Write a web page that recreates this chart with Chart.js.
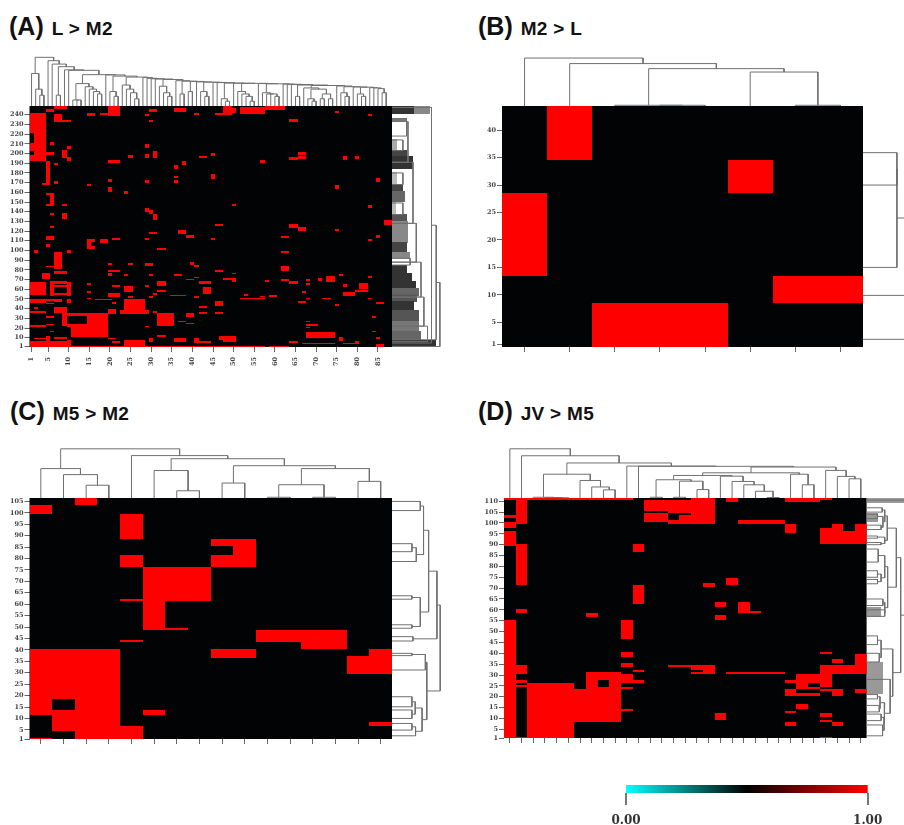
<!DOCTYPE html>
<html>
<head>
<meta charset="utf-8">
<title>Heatmaps</title>
<script src="https://cdn.jsdelivr.net/npm/chart.js@4"></script>
<style>
body { margin: 0; background: #fff; width: 904px; height: 825px; overflow: hidden; position: relative; }
canvas { position: absolute; filter: blur(0.45px); }
.lab { position: absolute; font: bold 25px "Liberation Sans", sans-serif; color: #111; white-space: nowrap; }
.lab span { font-size: 19px; letter-spacing: 0.3px; margin-left: 1px; }
</style>
</head>
<body>
<div class="lab" style="left:9px;top:12px">(A) <span>L &gt; M2</span></div>
<div class="lab" style="left:478px;top:12px">(B) <span>M2 &gt; L</span></div>
<div class="lab" style="left:10px;top:397px">(C) <span>M5 &gt; M2</span></div>
<div class="lab" style="left:478px;top:397px">(D) <span>JV &gt; M5</span></div>
<canvas id="chartA"></canvas>
<canvas id="chartB"></canvas>
<canvas id="chartC"></canvas>
<canvas id="chartD"></canvas>
<canvas id="chartKey"></canvas>
<script>
// red cells: [firstCol, lastCol, firstRow, lastRow]
const colTicksA = [1, 5, 10, 15, 20, 25, 30, 35, 40, 45, 50, 55, 60, 65, 70, 75, 80, 85];
const rowTicksA = [1, 10, 20, 30, 40, 50, 60, 70, 80, 90, 100, 110, 120, 130, 140, 150, 160, 170, 180, 190, 200, 210, 220, 230, 240];
const cellsA = [
  [2,4,193,241],[1,1,222,241],[1,1,203,210],[1,1,193,198],[5,6,243,245],[7,9,246,248],[7,8,233,240],[9,10,233,234],
  [6,6,209,211],[5,6,199,201],[10,10,205,207],[9,9,196,203],[10,10,193,196],[5,5,170,192],[4,5,168,169],[7,7,189,190],
  [7,7,169,171],[6,6,146,159],[5,5,158,159],[5,5,146,147],[9,9,146,147],[15,16,239,241],[18,19,240,241],[20,22,239,248],
  [29,29,239,240],[30,31,243,245],[30,30,233,234],[36,38,243,246],[41,41,240,241],[46,49,240,241],[48,49,242,248],
  [29,29,206,209],[29,29,196,199],[31,31,196,202],[20,22,191,193],[25,25,196,198],[36,36,185,188],[38,38,189,192],
  [42,43,196,197],[45,45,198,200],[45,45,174,178],[36,36,175,176],[36,36,170,172],[29,29,170,172],[20,20,171,173],
  [15,15,167,168],[20,20,161,165],[24,24,159,161],[6,6,137,138],[9,9,133,138],[29,29,140,143],[30,30,138,141],
  [31,31,132,137],[6,6,124,125],[46,47,126,127],[5,6,111,114],[5,5,104,106],[2,2,98,100],[15,15,102,111],[16,16,102,104],
  [16,16,109,111],[18,19,108,111],[21,22,111,112],[37,38,118,121],[39,40,113,116],[32,33,101,102],[29,29,111,112],
  [30,31,118,119],[45,45,111,112],[7,8,81,98],[5,6,83,84],[10,10,98,100],[40,40,86,88],[41,41,83,85],[29,30,85,87],
  [25,25,86,87],[20,20,86,87],[20,22,78,79],[20,20,74,76],[4,5,71,76],[7,9,76,78],[1,4,55,67],[1,4,46,50],[6,9,66,68],
  [7,9,63,64],[6,6,54,68],[7,9,55,56],[10,10,54,67],[5,6,48,49],[7,8,47,49],[10,10,46,49],[5,6,45,45],[15,15,65,66],
  [15,15,57,58],[15,15,50,51],[17,20,50,50],[20,22,53,56],[21,22,63,64],[21,21,45,46],[20,21,35,39],[24,24,74,75],
  [24,25,58,63],[25,25,52,53],[24,28,39,50],[23,29,35,38],[30,30,52,53],[31,31,55,56],[32,33,58,59],[32,33,64,68],
  [29,29,63,64],[30,30,74,75],[31,31,36,37],[1,4,36,37],[2,2,40,41],[7,9,36,41],[5,6,31,32],[9,14,33,35],[9,9,23,35],
  [10,14,22,24],[15,19,11,35],[11,14,11,22],[32,35,23,35],[1,4,22,23],[5,6,24,24],[6,6,16,17],[1,10,1,6],[2,5,9,9],
  [5,5,5,11],[7,9,9,10],[10,10,1,7],[11,49,1,1],[24,28,2,7],[20,21,9,9],[21,22,5,6],[30,30,6,9],[32,33,11,12],
  [36,38,6,9],[41,41,5,9],[42,44,5,6],[47,49,8,11],[37,38,27,27],[39,40,25,25],[39,40,32,35],[29,29,22,22],[35,38,54,54],
  [39,40,70,70],[41,41,72,72],[36,37,74,75],[46,47,78,79],[48,49,71,71],[42,44,66,68],[43,44,56,62],[42,43,41,42],
  [42,43,35,36],[46,47,43,47],[46,47,35,36],[41,41,52,53],
  [52,57,241,247],[48,50,242,246],[58,62,245,248],[75,75,242,243],[83,83,239,240],[64,65,233,235],[66,67,199,201],
  [64,65,194,196],[66,67,195,197],[57,57,191,193],[77,77,194,197],[80,80,195,197],[75,75,164,167],[85,85,171,174],
  [83,83,144,146],[50,50,146,147],[87,88,127,131],[64,65,124,127],[66,67,121,124],[62,63,113,114],[62,63,98,99],
  [62,63,79,84],[75,75,121,122],[83,83,110,111],[85,85,113,115],[62,63,69,70],[64,65,66,68],[68,68,69,70],[68,68,65,66],
  [71,71,69,71],[73,74,68,73],[76,76,74,75],[77,77,63,65],[81,82,61,66],[80,82,58,59],[77,79,54,57],[83,83,72,73],
  [83,83,50,51],[85,86,45,46],[84,84,31,32],[84,84,16,17],[85,85,9,10],[75,75,43,44],[72,73,50,51],[68,68,50,51],
  [66,67,46,47],[67,67,57,58],[59,60,53,54],[52,57,50,51],[53,53,54,55],[57,57,53,53],[48,50,70,71],[50,50,76,76],
  [50,50,68,69],[58,58,68,69],[68,74,10,15],[68,70,23,24],[68,68,27,27],[68,68,21,21],[76,76,7,10],[48,50,6,11],
  [64,65,5,6],[47,57,1,1],[59,63,1,1],[67,74,4,4],[80,80,5,6],[77,80,4,4],[85,86,1,3]
];
// tree nodes: [height, left, right, optional stem row]; heights are % of the heatmap size
const chainClustersA = [
  [13.5,1,[7,2,[4.5,3,4]]], 5, 6, [4.5,7,8], 9, 10,
  [9.3,[2.5,11,[2.5,12,13]],[8,14,[7,15,[6,16,[5,17,18]]]]], 19, [6,20,[4,21,22]],
  [8.7,23,[7,24,[5.5,25,[3,26,27]]]], 28, 29, 30, 31, [8.2,32,[5.5,33,[4,34,35]]], 36,
  [5,37,38], [6,39,40], 41, [6,42,[4,43,44]], 45, 46, [3,47,[2,48,49]], 50,
  [6,51,[5,52,[4,53,[2,54,55]]]], 56, [5.5,57,[5,58,[5,59,[4,60,61]]]], 62, 63, 64, [4,65,66],
  [7.5,67,[7,[3,68,[2,69,70]],[5,[3,71,72],[3,73,74]]]], 75, [5.5,76,[4,77,78]], 79,
  [5,80,[4,81,82]], 83, 84, 85, [5.5,86,87]
];
const chainHeightsA = [20.2,18.8,17.4,16.3,15,14.8,13,12.9,12.4,12,11.8,11.5,11.3,11.2,11,10.5,10.3,10.2,10,9.9,9.8,9.7,
  9.5,9.45,9.4,9.3,9.2,9.1,9,8.9,8.7,8.5,8.3,8,7.9,7.8,7.6,7.5,7.2];
const rightTreesA = [
  [13.2,[12.2,[10.9,247.5,4.6],8],1],
  [4.4,233,191],[5.8,191,128],[6.7,128,88],[8,88,52],[8.8,52,22],[9.8,22,6],
  [3,214,203],[3,180,168],[3,149,137],[4,236,218],[5,92,85]
];
// dense leaf lines of the row tree: [firstRow, lastRow, height, colour]
const bandsA = [
  [241.5,248,10.6,"#888"],[241.5,248,6,"#333"],[234,236,4,"#777"],[203,214,1.5,"#aaa"],[197,203,4,"#444"],[185,197,5.8,"#333"],
  [168,180,1.5,"#bbb"],[161,168,3,"#444"],[151,161,3.5,"#666"],[137,149,1.2,"#bbb"],[130,137,4,"#555"],[108,130,4.5,"#888"],
  [98,108,4,"#444"],[92,98,5,"#888"],[76,85,4.2,"#333"],[68,76,5.5,"#333"],[61,68,6.7,"#333"],[54,61,7.5,"#666"],
  [47,54,6.8,"#555"],[38,47,6,"#333"],[27,38,7.5,"#555"],[16,27,7.5,"#777"],[7,16,8,"#666"],[1,7,12,"#333"]
];

const colTicksB = [1, 2, 3, 4, 5, 6, 7, 8];
const rowTicksB = [1, 5, 10, 15, 20, 25, 30, 35, 40];
const cellsB = [[2,2,35,44],[1,1,14,28],[6,6,29,34],[3,5,1,8],[7,8,9,13]];
const topTreeB = [[19.9,1,[17.6,2,[15.5,[0.3,3,[0.3,4,5]],[14.1,6,[0.3,7,8]]]]]];
const rightTreesB = [[14,[9.4,[9.4,35.9,30],15,24],[14,9.9,1.9]]];

const colTicksC = [1, 2, 3, 4, 5, 6, 7, 8, 9, 10, 11, 12, 13, 14, 15, 16];
const rowTicksC = [1, 5, 10, 15, 20, 25, 30, 35, 40, 45, 50, 55, 60, 65, 70, 75, 80, 85, 90, 95, 100, 105];
const cellsC = [
  [3,3,104,106],[1,1,100,103],[5,5,89,99],[5,5,77,81],[9,10,86,88],[10,10,82,85],[9,10,77,81],[6,8,62,76],[6,6,49,61],
  [5,5,62,62],[5,5,44,44],[7,7,49,49],[11,12,44,48],[13,14,41,48],[1,1,12,40],[2,2,19,40],[2,2,5,13],[3,4,1,40],
  [5,5,1,6],[1,1,1,1],[6,6,12,13],[9,10,37,40],[15,15,30,37],[16,16,30,40],[16,16,7,8]
];
const topTreeC = [[20.4,[12.2,1,[9.7,2,[5.3,3,4]]],[17.6,5,[16.3,[11.4,6,[3,7,8]],[13.4,[6.2,9,10],[12.2,[5.5,[0.3,11,12],[0.3,13,14]],[6.9,15,16]]]]]]];
const rightTreesC = [[13.3,
  [12.4,[10.1,[8.7,[7.8,105,101],[6.7,[5.5,86.5,83],78.7]],[7.8,[5.5,63.7,62.2],[5.5,51,49.5]]],[5.8,45.8,43.9]],
  [9.6,[9.2,[5.5,38.5,37.5],31.2],[8.3,[6.4,[5.5,19.5,15.1],[5.5,13.7,10]],[6.5,[5.5,7.8,4.9],2.4]]]
]];

const colTicksD = [1,2,3,4,5,6,7,8,9,10,11,12,13,14,15,16,17,18,19,20,21,22,23,24,25,26,27,28,29,30,31];
const rowTicksD = [1,5,10,15,20,25,30,35,40,45,50,55,60,65,70,75,80,85,90,95,100,105,110];
const cellsD = [
  [1,2,111,111],[3,11,111,111],[2,2,100,111],[1,1,103,103],[1,1,98,100],[1,1,90,96],[2,2,72,90],[12,12,87,90],
  [13,14,106,110],[13,14,101,104],[15,16,105,110],[15,16,100,101],[17,18,100,111],[16,16,102,103],[12,12,63,71],
  [2,2,59,60],[8,8,57,58],[1,1,1,55],[11,11,47,55],[11,11,39,40],[11,11,34,35],[2,2,31,34],[2,2,27,27],[2,2,25,25],
  [2,2,1,1],[12,12,32,32],[11,12,27,27],[11,11,24,24],[11,11,28,30],[11,11,14,14],[3,6,1,26],[7,7,9,23],[8,8,9,31],
  [9,9,9,24],[9,9,28,31],[10,10,9,31],[15,16,34,34],[20,20,72,74],[18,18,71,72],[19,19,62,63],[21,21,59,63],[22,22,59,59],
  [19,19,56,57],[17,17,33,34],[18,18,31,34],[17,17,31,31],[20,24,31,31],[28,28,40,40],[29,29,36,37],[31,31,34,39],
  [28,31,31,34],[26,27,27,30],[26,26,24,27],[27,27,24,24],[28,28,25,28],[28,28,29,30],[25,25,27,27],[25,25,21,23],
  [26,27,21,21],[29,29,21,23],[31,31,22,23],[28,28,23,23],[26,26,15,16],[25,25,13,13],[28,28,11,12],[28,28,9,9],
  [29,29,7,8],[25,25,7,8],[19,19,10,12],[28,28,1,1],[21,24,100,101],[25,25,96,99],[28,29,91,97],[29,29,97,99],
  [31,31,97,99],[30,31,91,96],[20,20,110,111],[25,27,110,111],[28,28,111,111]
];
const topTreeD = [[20.5,1,[17.6,2,[14.6,
  [9.9,[0.3,3,[0.2,4,[0.1,5,6]]],[7.3,7,[4.6,8,[3.4,9,10]]]],
  [13.3,11,[13.2,12,[12.9,
    [10.5,[9.4,[7.6,[0.3,13,14],[7,[0.3,15,16],[3.5,17,18]]],[9.1,19,[6.9,20,[5.5,21,[2.8,22,[0.2,23,24]]]]]],[9.9,25,[5.5,26,27]]],
    [11.5,28,[9,29,[8,30,31]]]
  ]]]
]]]];
const rightTreesD = [[16,110.5,
  [9.4,
    [8.2,[5.7,[5,[4.3,107,105],[4.5,[3,104,102],[4,99,97]]],[5,[3,94,93],[4,91,90]]],
         [5.8,[5,[3.2,88,82],[4,[3,78,75],[3,74,72]]],[5,[4.5,65,62],[5,60,57]]]],
    [7.2,[4,[3,48,44],[3.5,40,36]],[6.5,28,[5,[3.7,[3,21,19],[3.5,16,13]],[4.8,[4,12,9],[4.4,7,2]]]]]
  ]
]];
const bandsD = [[109.6,111,12,"#999"],[101,104,3.2,"#999"],[57,61,4,"#999"],[21.6,35.4,4.5,"#999"]];

const keyTicks = [0, 1];
const keyStops = [[0, "#00ffff"], [0.5, "#000000"], [1, "#ff0000"]];

const treeColor = "#707070";
const heatBlack = "#020304";
const heatRed = "#ff0000";

// folds the left-to-right list of clusters into one caterpillar tree
function foldChain(clusters, heights) {
  let node = clusters[clusters.length - 1];
  for (let i = clusters.length - 2; i >= 0; i--) {
    node = [heights[i], clusters[i], node];
  }
  return node;
}

// turns tree nodes into line points, null points break the line
function treePoints(roots, horizontal) {
  const pts = [];
  const add = (pos, h) => pts.push(horizontal ? {x: 100 + h, y: pos} : {x: pos, y: 100 + h});
  function walk(node) {
    if (typeof node === "number") return {pos: node, h: 0};
    const a = walk(node[1]);
    const b = walk(node[2]);
    add(a.pos, a.h);
    add(a.pos, node[0]);
    add(b.pos, node[0]);
    add(b.pos, b.h);
    pts.push({x: null, y: null});
    return {pos: node[3] !== undefined ? node[3] : (a.pos + b.pos) / 2, h: node[0]};
  }
  roots.forEach(walk);
  return pts;
}

const heatPlugin = {
  id: "heat",
  beforeDatasetsDraw(chart, args, opts) {
    const {ctx, chartArea: area, scales} = chart;
    const px = (scale, v) => Math.round(scale.getPixelForValue(v));
    ctx.save();
    (opts.bands || []).forEach(b => {
      const x0 = px(scales.treeX, 100);
      const x1 = px(scales.treeX, 100 + b[2]);
      const y0 = px(scales.y, b[1] + 0.5);
      const y1 = px(scales.y, b[0] - 0.5);
      ctx.fillStyle = b[3];
      ctx.fillRect(x0, y0, x1 - x0, y1 - y0);
    });
    ctx.fillStyle = heatBlack;
    ctx.fillRect(area.left, area.top, area.width, area.height);
    ctx.beginPath();
    ctx.rect(area.left, area.top, area.width, area.height);
    ctx.clip();
    ctx.fillStyle = heatRed;
    opts.cells.forEach(c => {
      const x0 = px(scales.x, c[0] - 0.5);
      const x1 = px(scales.x, c[1] + 0.5);
      const y0 = px(scales.y, c[3] + 0.5);
      const y1 = px(scales.y, c[2] - 0.5);
      ctx.fillRect(x0, y0, x1 - x0, Math.max(y1 - y0, 1));
    });
    ctx.restore();
  }
};

const keyPlugin = {
  id: "keyBar",
  beforeDatasetsDraw(chart) {
    const {ctx, chartArea: area, scales} = chart;
    const grad = ctx.createLinearGradient(scales.x.getPixelForValue(0), 0, scales.x.getPixelForValue(1), 0);
    keyStops.forEach(s => grad.addColorStop(s[0], s[1]));
    ctx.fillStyle = grad;
    ctx.fillRect(area.left, area.top, area.width, area.height);
  }
};

function heatmap(id, box, p) {
  const canvas = document.getElementById(id);
  canvas.style.left = box.left + "px";
  canvas.style.top = box.top + "px";
  canvas.width = box.width;
  canvas.height = box.height;
  const tickFont = {family: '"DejaVu Serif", serif', size: 6.5, weight: "bold"};
  const lineSet = (pts, xId, yId) => ({
    data: pts, showLine: true, pointRadius: 0, borderWidth: 1, borderColor: treeColor,
    xAxisID: xId, yAxisID: yId, clip: false
  });
  return new Chart(canvas, {
    type: "scatter",
    data: {
      datasets: [
        lineSet(treePoints(p.topTree, false), "x", "treeY"),
        lineSet(treePoints(p.rightTrees, true), "treeX", "y")
      ]
    },
    options: {
      responsive: false,
      animation: false,
      layout: {padding: {top: box.padTop, right: box.padRight, left: 0, bottom: 0}},
      plugins: {
        legend: {display: false},
        tooltip: {enabled: false},
        heat: {cells: p.cells, bands: p.bands || []}
      },
      scales: {
        x: {
          type: "linear", min: p.xRange[0], max: p.xRange[1],
          afterBuildTicks: s => { s.ticks = p.colTicks.map(value => ({value})); },
          afterFit: s => { s.height = box.axisH; },
          border: {display: false},
          grid: {drawOnChartArea: false, tickLength: 5, color: "#666"},
          ticks: {
            display: !!p.colLabels, autoSkip: false, minRotation: 90, maxRotation: 90, padding: 5,
            font: tickFont, color: "#444", callback: v => v
          }
        },
        y: {
          type: "linear", min: p.yRange[0], max: p.yRange[1],
          afterBuildTicks: s => { s.ticks = p.rowTicks.map(value => ({value})); },
          afterFit: s => { s.width = box.axisW; },
          border: {display: false},
          grid: {drawOnChartArea: false, tickLength: 5, color: "#666"},
          ticks: {autoSkip: false, padding: 1, font: tickFont, color: "#444", callback: v => v}
        },
        treeX: {type: "linear", axis: "x", display: false, min: 0, max: 100},
        treeY: {type: "linear", axis: "y", display: false, min: 0, max: 100}
      }
    },
    plugins: [heatPlugin]
  });
}

heatmap("chartA", {left: 0, top: 40, width: 445, height: 340, padTop: 66, padRight: 53, axisW: 29.5, axisH: 33}, {
  cells: cellsA, bands: bandsA, colTicks: colTicksA, rowTicks: rowTicksA, colLabels: true,
  xRange: [0.5, 88.4], yRange: [0.5, 249],
  topTree: [foldChain(chainClustersA, chainHeightsA)], rightTrees: rightTreesA
});
heatmap("chartB", {left: 472, top: 40, width: 432, height: 340, padTop: 66, padRight: 41, axisW: 30, axisH: 33}, {
  cells: cellsB, colTicks: colTicksB, rowTicks: rowTicksB,
  xRange: [0.5, 8.5], yRange: [0.5, 44.4],
  topTree: topTreeB, rightTrees: rightTreesB
});
heatmap("chartC", {left: 0, top: 430, width: 445, height: 340, padTop: 68, padRight: 53, axisW: 29.5, axisH: 31}, {
  cells: cellsC, colTicks: colTicksC, rowTicks: rowTicksC,
  xRange: [0.5, 16.5], yRange: [1, 106.5],
  topTree: topTreeC, rightTrees: rightTreesC
});
heatmap("chartD", {left: 474, top: 430, width: 430, height: 340, padTop: 68, padRight: 37.4, axisW: 30, axisH: 32}, {
  cells: cellsD, bands: bandsD, colTicks: colTicksD, rowTicks: rowTicksD,
  xRange: [0.5, 31.5], yRange: [1, 111.5],
  topTree: topTreeD, rightTrees: rightTreesD
});

// colour key
const keyCanvas = document.getElementById("chartKey");
keyCanvas.style.left = "590px";
keyCanvas.style.top = "775px";
keyCanvas.width = 314;
keyCanvas.height = 50;
new Chart(keyCanvas, {
  type: "scatter",
  data: {datasets: [{data: []}]},
  options: {
    responsive: false,
    animation: false,
    layout: {padding: {top: 10, left: 36, right: 36.3, bottom: 0}},
    plugins: {legend: {display: false}, tooltip: {enabled: false}},
    scales: {
      x: {
        type: "linear", min: 0, max: 1,
        afterBuildTicks: s => { s.ticks = keyTicks.map(value => ({value})); },
        afterFit: s => { s.height = 32; },
        border: {display: false},
        grid: {drawOnChartArea: false, tickLength: 12, color: "#777", lineWidth: 2},
        ticks: {
          autoSkip: false, maxRotation: 0, padding: 9, color: "#333",
          font: {family: '"DejaVu Serif", serif', size: 12, weight: "bold"},
          callback: v => v.toFixed(2)
        }
      },
      y: {display: false, min: 0, max: 1}
    }
  },
  plugins: [keyPlugin]
});
</script>
</body>
</html>
